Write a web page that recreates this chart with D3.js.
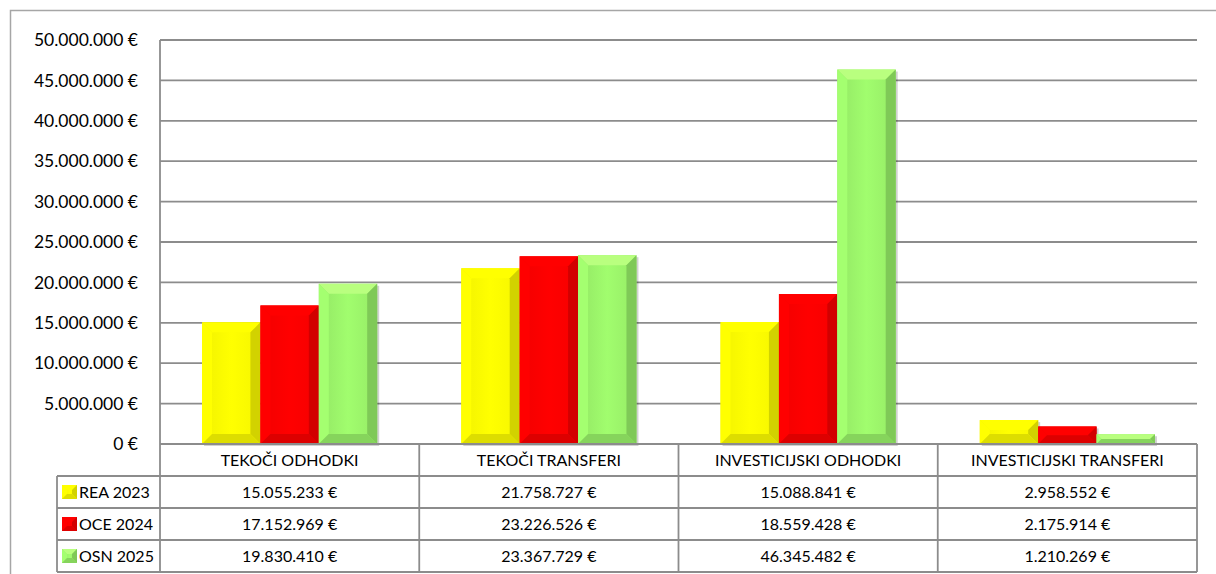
<!DOCTYPE html>
<html>
<head>
<meta charset="utf-8">
<script src="https://cdn.jsdelivr.net/npm/d3@7"></script>
<style>
  body { margin: 0; background: #fff; }
  svg { display: block; }
</style>
</head>
<body>
<svg id="mainFrame"></svg>
<script>
const categories = ["TEKOČI ODHODKI", "TEKOČI TRANSFERI", "INVESTICIJSKI ODHODKI", "INVESTICIJSKI TRANSFERI"];
const seriesNames = ["REA 2023", "OCE 2024", "OSN 2025"];
const rea2023 = [15055233, 21758727, 15088841, 2958552];
const oce2024 = [17152969, 23226526, 18559428, 2175914];
const osn2025 = [19830410, 23367729, 46345482, 1210269];
const yTicks = [0, 5e6, 10e6, 15e6, 20e6, 25e6, 30e6, 35e6, 40e6, 45e6, 50e6];
const colors = ["#ffff00", "#ff0000", "#9bf46a"];

const width = 1216, height = 574;
const plotLeft = 160, plotRight = 1197, plotTop = 40, zero = 444;
const rowH = 32;

const seriesValues = [rea2023, oce2024, osn2025];
const locale = d3.formatLocale({ decimal: ",", thousands: ".", grouping: [3], currency: ["", " €"] });
const fmt = locale.format("$,.0f");

const svg = d3.select("#mainFrame")
    .attr("width", width)
    .attr("height", height)
    .attr("font-family", "Lato, 'Open Sans', sans-serif");

const x0 = d3.scaleBand().domain(categories).range([plotLeft, plotRight]);
const x1 = d3.scaleBand().domain(seriesNames).range([0, x0.bandwidth()]).paddingOuter(0.72);
const y = d3.scaleLinear().domain([0, 50e6]).range([zero, plotTop]);

// gradients for bevel faces
const defs = svg.append("defs");
colors.forEach((c, i) => {
    const base = d3.color(c);
    const g = defs.append("linearGradient").attr("id", "face" + i).attr("x1", 0).attr("x2", 1);
    g.append("stop").attr("offset", 0).attr("stop-color", base.darker(0.15));
    g.append("stop").attr("offset", 0.5).attr("stop-color", base.brighter(0.1));
    g.append("stop").attr("offset", 1).attr("stop-color", base.darker(0.1));
});

// outer border
svg.append("path")
    .attr("d", `M10.5,${height}V10.5H${width}`)
    .attr("fill", "none")
    .attr("stroke", "#a6a6a6")
    .attr("stroke-width", 1.5);

// grid lines
svg.append("g")
    .selectAll("line")
    .data(yTicks)
    .join("line")
    .attr("x1", plotLeft)
    .attr("x2", plotRight)
    .attr("y1", d => y(d))
    .attr("y2", d => y(d))
    .attr("stroke", "#8c8c8c")
    .attr("stroke-width", 1.8);

// y labels
svg.append("g")
    .selectAll("text")
    .data(yTicks)
    .join("text")
    .attr("x", 138)
    .attr("y", d => y(d))
    .attr("dy", "0.35em")
    .attr("text-anchor", "end")
    .attr("font-size", 17.5)
    .attr("fill", "#000")
    .text(d => fmt(d));

// bars with bevel
function bevel(g, x, w, yTop, h, ci, shadow = true, size = 10) {
    const base = d3.color(colors[ci]);
    const b = Math.min(size, h / 2, w / 2);
    const xr = x + w, yb = yTop + h;
    if (shadow) {
        g.append("rect").attr("x", x + 2).attr("y", yTop + 2).attr("width", w).attr("height", h)
            .attr("fill", "#000").attr("opacity", 0.18);
    }
    g.append("rect").attr("x", x).attr("y", yTop).attr("width", w).attr("height", h)
        .attr("fill", `url(#face${ci})`);
    const faces = [
        [[x, yTop], [xr, yTop], [xr - b, yTop + b], [x + b, yTop + b], base.brighter(0.5)],
        [[x, yTop], [x + b, yTop + b], [x + b, yb - b], [x, yb], base.brighter(0.15)],
        [[xr, yTop], [xr, yb], [xr - b, yb - b], [xr - b, yTop + b], base.darker(0.55)],
        [[x, yb], [x + b, yb - b], [xr - b, yb - b], [xr, yb], base.darker(0.4)]
    ];
    faces.forEach(f => {
        g.append("polygon")
            .attr("points", f.slice(0, 4).map(p => p.join(",")).join(" "))
            .attr("fill", f[4]);
    });
}

const groups = svg.append("g")
    .selectAll("g")
    .data(categories)
    .join("g")
    .attr("transform", d => `translate(${x0(d)},0)`);

groups.each(function (cat, ci) {
    const g = d3.select(this);
    seriesNames.forEach((s, si) => {
        const v = seriesValues[si][ci];
        bevel(g, x1(s), x1.bandwidth(), y(v), zero - y(v), si);
    });
});

// axis line
svg.append("line")
    .attr("x1", plotLeft).attr("x2", plotLeft)
    .attr("y1", plotTop).attr("y2", zero + rowH * 4)
    .attr("stroke", "#8c8c8c").attr("stroke-width", 1.8);

// data table
const table = svg.append("g").attr("font-size", 16).attr("fill", "#000");
const legX = 57;
const lineStyle = sel => sel.attr("stroke", "#8c8c8c").attr("stroke-width", 1.8);

[0, 1, 2, 3, 4].forEach(r => {
    table.append("line")
        .attr("x1", r === 0 ? plotLeft : legX).attr("x2", plotRight)
        .attr("y1", zero + r * rowH).attr("y2", zero + r * rowH)
        .call(lineStyle);
});
categories.forEach(c => {
    table.append("line")
        .attr("x1", x0(c) + x0.bandwidth()).attr("x2", x0(c) + x0.bandwidth())
        .attr("y1", zero).attr("y2", zero + rowH * 4)
        .call(lineStyle);
});
table.append("line")
    .attr("x1", legX).attr("x2", legX)
    .attr("y1", zero + rowH).attr("y2", zero + rowH * 4)
    .call(lineStyle);

table.selectAll("text.head")
    .data(categories)
    .join("text")
    .attr("class", "head")
    .attr("x", d => x0(d) + x0.bandwidth() / 2)
    .attr("y", zero + rowH / 2)
    .attr("dy", "0.35em")
    .attr("text-anchor", "middle")
    .text(d => d);

seriesNames.forEach((s, si) => {
    const ry = zero + rowH * (si + 1);
    const kg = table.append("g");
    bevel(kg, 62, 15, ry + rowH / 2 - 7, 14, si, false, 5);
    table.append("text")
        .attr("x", 79)
        .attr("y", ry + rowH / 2)
        .attr("dy", "0.35em")
        .text(s);
    table.selectAll(null)
        .data(seriesValues[si])
        .join("text")
        .attr("x", (d, i) => x0(categories[i]) + x0.bandwidth() / 2)
        .attr("y", ry + rowH / 2)
        .attr("dy", "0.35em")
        .attr("text-anchor", "middle")
        .text(d => fmt(d));
});
</script>
</body>
</html>
